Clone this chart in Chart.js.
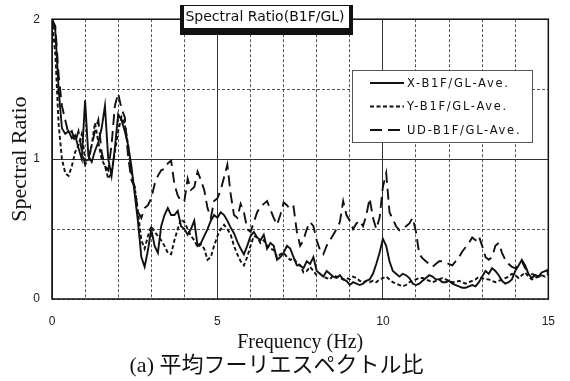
<!DOCTYPE html>
<html><head><meta charset="utf-8">
<script src="https://cdn.jsdelivr.net/npm/chart.js@4/dist/chart.umd.min.js"></script>
<style>html,body{margin:0;padding:0;background:#fff}#wrap{width:570px;height:381px;position:relative}</style>
</head><body><div id="wrap"><canvas id="c"></canvas></div>
<script>
const freq = [
0.0,0.1,0.2,0.3,0.4,0.5,0.6,0.7,0.8,0.9,
1.0,1.1,1.2,1.3,1.4,1.5,1.6,1.7,1.8,1.9,
2.0,2.1,2.2,2.3,2.4,2.5,2.6,2.7,2.8,2.9,
3.0,3.1,3.2,3.3,3.4,3.5,3.6,3.7,3.8,3.9,
4.0,4.1,4.2,4.3,4.4,4.5,4.6,4.7,4.8,4.9,
5.0,5.1,5.2,5.3,5.4,5.5,5.6,5.7,5.8,5.9,
6.0,6.1,6.2,6.3,6.4,6.5,6.6,6.7,6.8,6.9,
7.0,7.1,7.2,7.3,7.4,7.5,7.6,7.7,7.8,7.9,
8.0,8.1,8.2,8.3,8.4,8.5,8.6,8.7,8.8,8.9,
9.0,9.1,9.2,9.3,9.4,9.5,9.6,9.7,9.8,9.9,
10.0,10.1,10.2,10.3,10.4,10.5,10.6,10.7,10.8,10.9,
11.0,11.1,11.2,11.3,11.4,11.5,11.6,11.7,11.8,11.9,
12.0,12.1,12.2,12.3,12.4,12.5,12.6,12.7,12.8,12.9,
13.0,13.1,13.2,13.3,13.4,13.5,13.6,13.7,13.8,13.9,
14.0,14.1,14.2,14.3,14.4,14.5,14.6,14.7,14.8,14.9,
15.0];
const xAve = [
2.0,1.92,1.5,1.22,1.18,1.2,1.15,1.17,1.08,1.0,
1.42,1.02,0.98,1.06,1.12,1.22,1.38,1.0,0.88,1.08,
1.32,1.28,1.2,1.1,0.95,0.75,0.55,0.3,0.23,0.35,
0.5,0.38,0.33,0.52,0.6,0.65,0.6,0.6,0.63,0.52,
0.5,0.46,0.5,0.56,0.38,0.4,0.45,0.5,0.56,0.6,
0.58,0.62,0.6,0.56,0.51,0.47,0.41,0.36,0.32,0.38,
0.45,0.48,0.44,0.42,0.46,0.36,0.4,0.38,0.28,0.3,
0.33,0.38,0.36,0.3,0.24,0.24,0.22,0.27,0.25,0.3,
0.2,0.18,0.16,0.2,0.18,0.16,0.15,0.17,0.14,0.13,
0.1,0.12,0.11,0.1,0.11,0.13,0.14,0.18,0.25,0.33,
0.43,0.38,0.27,0.2,0.18,0.16,0.18,0.17,0.15,0.11,
0.1,0.11,0.13,0.15,0.17,0.16,0.14,0.14,0.12,0.12,
0.13,0.11,0.1,0.09,0.08,0.08,0.09,0.1,0.09,0.12,
0.16,0.2,0.18,0.22,0.2,0.17,0.13,0.11,0.12,0.14,
0.2,0.24,0.28,0.24,0.18,0.15,0.17,0.16,0.19,0.2,
0.21];
const yAve = [
2.0,1.75,1.25,1.0,0.9,0.88,0.95,1.05,1.1,1.18,
1.0,0.98,1.1,1.26,1.12,1.0,0.95,0.86,0.9,1.05,
1.2,1.3,1.25,1.1,0.9,0.8,0.62,0.42,0.36,0.45,
0.52,0.48,0.45,0.42,0.38,0.33,0.32,0.42,0.5,0.57,
0.55,0.5,0.45,0.42,0.37,0.39,0.36,0.28,0.3,0.38,
0.45,0.5,0.53,0.5,0.46,0.38,0.32,0.27,0.24,0.3,
0.38,0.45,0.44,0.4,0.42,0.38,0.36,0.35,0.3,0.32,
0.33,0.3,0.28,0.29,0.26,0.24,0.19,0.2,0.23,0.2,
0.17,0.18,0.16,0.15,0.14,0.17,0.16,0.15,0.14,0.15,
0.14,0.16,0.15,0.13,0.12,0.13,0.12,0.13,0.12,0.14,
0.15,0.16,0.14,0.12,0.11,0.1,0.09,0.1,0.12,0.13,
0.14,0.15,0.15,0.14,0.13,0.12,0.13,0.14,0.15,0.14,
0.13,0.12,0.12,0.13,0.12,0.11,0.12,0.13,0.14,0.16,
0.15,0.14,0.14,0.13,0.12,0.13,0.14,0.15,0.16,0.18,
0.17,0.15,0.17,0.19,0.16,0.14,0.15,0.16,0.17,0.16,
0.18];
const udAve = [
2.0,1.95,1.6,1.38,1.28,1.18,1.2,1.12,1.2,1.06,
0.96,1.0,1.1,1.2,1.28,1.05,0.95,0.92,1.1,1.38,
1.47,1.36,1.3,1.02,0.85,0.8,0.62,0.58,0.65,0.67,
0.72,0.82,0.88,0.92,0.93,0.97,0.99,0.82,0.74,0.7,
0.7,0.86,0.78,0.8,0.91,0.85,0.78,0.65,0.58,0.7,
0.72,0.78,0.87,0.96,0.75,0.6,0.58,0.68,0.62,0.5,
0.48,0.55,0.62,0.66,0.68,0.7,0.64,0.58,0.53,0.6,
0.69,0.67,0.64,0.66,0.48,0.38,0.42,0.5,0.55,0.52,
0.42,0.35,0.32,0.38,0.42,0.46,0.5,0.55,0.7,0.6,
0.56,0.5,0.54,0.56,0.52,0.6,0.72,0.58,0.5,0.58,
0.8,0.9,0.62,0.57,0.52,0.49,0.5,0.52,0.54,0.58,
0.48,0.32,0.29,0.27,0.25,0.23,0.25,0.27,0.27,0.26,
0.25,0.24,0.27,0.3,0.34,0.37,0.4,0.44,0.42,0.45,
0.38,0.3,0.28,0.3,0.38,0.4,0.33,0.28,0.25,0.23,
0.22,0.24,0.27,0.22,0.2,0.18,0.17,0.16,0.17,0.18,
0.2];
const seriesLabels = ['X-B1F/GL-Ave.', 'Y-B1F/GL-Ave.', 'UD-B1F/GL-Ave.'];
const xTickLabels = [0, 5, 10, 15];
const yTickLabels = [0, 1, 2];
const chartTitle = 'Spectral Ratio(B1F/GL)';
const xTitle = 'Frequency (Hz)';
const yTitle = 'Spectral Ratio';
const caption = '(a) 平均フーリエスペクトル比';

function pts(vals){ return freq.map((f,i)=>({x:f,y:vals[i]})); }

const overlay = {
  id:'overlay',
  afterDraw(chart){
    const ctx = chart.ctx, a = chart.chartArea;
    ctx.save();
    // frame
    ctx.strokeStyle = '#111'; ctx.lineWidth = 1.5; ctx.setLineDash([]);
    ctx.strokeRect(a.left, a.top, a.right - a.left, a.bottom - a.top);
    // title box with shadow
    ctx.fillStyle = '#111';
    ctx.fillRect(180, 5, 173, 30);
    ctx.fillStyle = '#fff';
    ctx.fillRect(184, 6, 165, 22);
    ctx.lineWidth = 1; ctx.strokeStyle = '#111';
    ctx.strokeRect(183.5, 5.5, 166, 23);
    ctx.fillStyle = '#111';
    ctx.font = '14px "DejaVu Sans"';
    ctx.textAlign = 'center'; ctx.textBaseline = 'middle';
    ctx.fillText(chartTitle, 265, 17.5);
    // legend
    ctx.fillStyle = '#fff';
    ctx.fillRect(352, 70, 180, 72);
    ctx.strokeStyle = '#555'; ctx.lineWidth = 1;
    ctx.strokeRect(352.5, 70.5, 180, 72);
    ctx.textAlign = 'left'; ctx.textBaseline = 'middle';
    ctx.font = '11.5px "DejaVu Sans"';
    try { ctx.letterSpacing = '1.7px'; } catch(e) {}
    chart.data.datasets.forEach((ds, i) => {
      const y = 84 + i * 23.5;
      ctx.strokeStyle = '#111'; ctx.lineWidth = 1.8;
      ctx.setLineDash(ds.legendDash || []);
      ctx.beginPath(); ctx.moveTo(370, y - 1); ctx.lineTo(404, y - 1); ctx.stroke();
      ctx.setLineDash([]);
      ctx.fillStyle = '#111';
      ctx.fillText(ds.label, 407, y);
    });
    ctx.restore();
  }
};

new Chart(document.getElementById('c'), {
  type: 'line',
  data: {
    datasets: [
      {label: seriesLabels[0], data: pts(xAve), borderColor: '#111', borderWidth: 1.9, pointRadius: 0, tension: 0, legendDash: []},
      {label: seriesLabels[1], data: pts(yAve), borderColor: '#111', borderWidth: 1.9, pointRadius: 0, tension: 0, borderDash: [4, 2.5], legendDash: [4, 2.5]},
      {label: seriesLabels[2], data: pts(udAve), borderColor: '#111', borderWidth: 1.9, pointRadius: 0, tension: 0, borderDash: [11, 6], legendDash: [12, 6]}
    ]
  },
  options: {
    responsive: true, maintainAspectRatio: false, animation: false, devicePixelRatio: 1,
    layout: {padding: {top: 15, right: 17, left: 0, bottom: 0}},
    plugins: {
      legend: {display: false}, tooltip: {enabled: false},
      title: {display: true, position: 'bottom', text: caption, color: '#111',
        font: {family: '"Liberation Serif", "Noto Sans CJK JP"', size: 22, weight: 'normal', lineHeight: 1},
        padding: {top: 0, bottom: 4}}
    },
    scales: {
      x: {
        type: 'linear', min: 0, max: 15,
        afterFit(s){ s.height = 56; },
        ticks: {stepSize: 1, autoSkip: false, maxRotation: 0, padding: 15, color: '#222',
          font: {family: '"Liberation Sans"', size: 12},
          callback: v => xTickLabels.includes(v) ? String(v) : ''},
        grid: {drawTicks: false, color: c => (c.tick && c.tick.value % 5 === 0) ? '#333' : '#555', lineWidth: 1},
        border: {display: false, dash: c => (c.tick && c.tick.value % 5 === 0) ? [] : [3, 2]},
        title: {display: true, text: xTitle, color: '#111', font: {family: '"Liberation Serif"', size: 20, lineHeight: 1}, padding: {top: 0, bottom: 2}}
      },
      y: {
        type: 'linear', min: 0, max: 2,
        afterFit(s){ s.width = 52; },
        ticks: {stepSize: 0.5, autoSkip: false, padding: 12, color: '#222',
          font: {family: '"Liberation Sans"', size: 12},
          callback: v => yTickLabels.includes(v) ? String(v) : ''},
        grid: {drawTicks: false, color: c => (c.tick && c.tick.value === 1) ? '#333' : '#555', lineWidth: 1},
        border: {display: false, dash: c => (c.tick && c.tick.value === 1) ? [] : [3, 2]},
        title: {display: true, text: yTitle, color: '#111', font: {family: '"Liberation Serif"', size: 22, lineHeight: 1}, padding: {top: 9, bottom: 0}}
      }
    }
  },
  plugins: [overlay]
});
</script>
</body></html>
